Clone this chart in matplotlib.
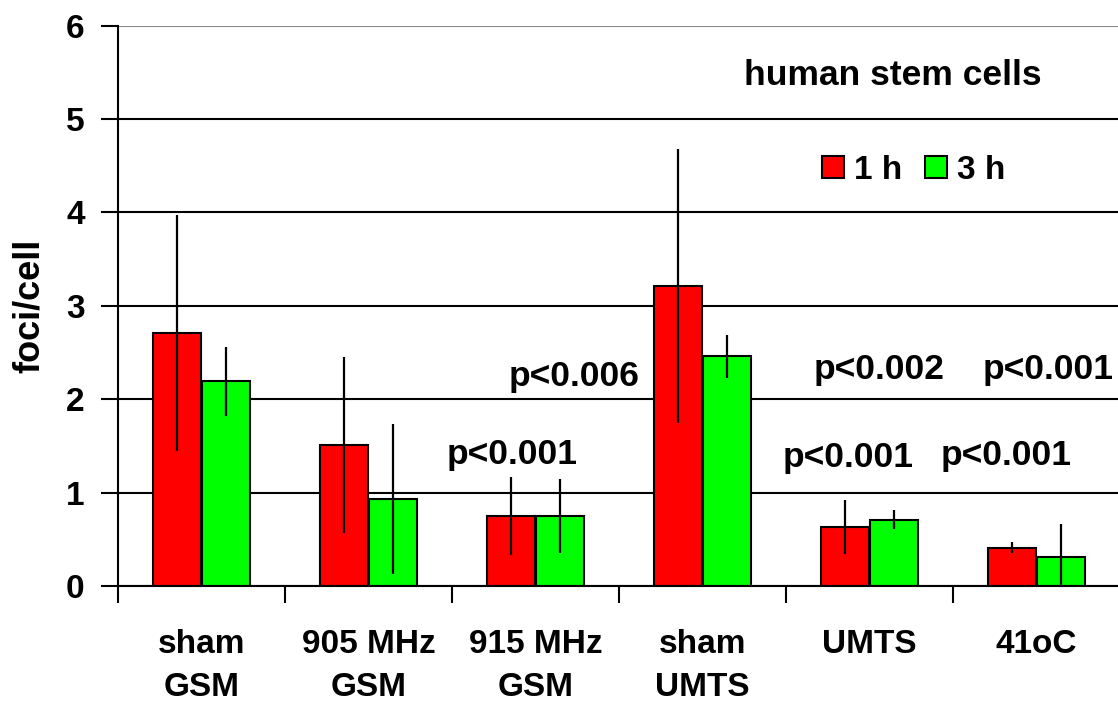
import numpy as np
import matplotlib
matplotlib.use("Agg")
import matplotlib.pyplot as plt

plt.rcParams['font.family'] = ['Liberation Sans', 'DejaVu Sans']
plt.rcParams['font.weight'] = 'bold'

# data
categories = ["sham\nGSM", "905 MHz\nGSM", "915 MHz\nGSM", "sham\nUMTS", "UMTS", "41oC"]
foci_1h = [2.71, 1.51, 0.75, 3.21, 0.63, 0.41]
err_1h = [1.26, 0.94, 0.42, 1.47, 0.29, 0.06]
foci_3h = [2.19, 0.93, 0.75, 2.46, 0.71, 0.31]
err_3h = [0.37, 0.80, 0.40, 0.23, 0.10, 0.35]
series_names = ["1 h", "3 h"]

p_labels = ["p<0.001", "p<0.006", "p<0.001", "p<0.002", "p<0.001", "p<0.001"]
p_x = [1.86, 2.23, 3.87, 4.06, 4.82, 5.07]
p_y = [1.41, 2.24, 1.38, 2.32, 1.40, 2.32]

fig = plt.figure(figsize=(11.18, 7.04), dpi=100)
ax = fig.add_axes([0.1055, 0.1676, 0.8962, 0.7960])

x = np.arange(len(categories))
w = 0.29
off = 0.147

ax.bar(x - off, foci_1h, w, color='#ff0000', edgecolor='black', linewidth=1.5,
       label=series_names[0], zorder=2)
ax.bar(x + off, foci_3h, w, color='#00ff00', edgecolor='black', linewidth=1.5,
       label=series_names[1], zorder=2)
ax.errorbar(x - off, foci_1h, yerr=err_1h, fmt='none', ecolor='black',
            elinewidth=1.6, capsize=0, zorder=3)
ax.errorbar(x + off, foci_3h, yerr=err_3h, fmt='none', ecolor='black',
            elinewidth=1.6, capsize=0, zorder=3)

ax.set_xlim(-0.5, len(categories) - 0.5)
ax.set_ylim(0, 6)
ax.set_yticks(range(0, 7))
ax.yaxis.grid(True, color='black', linewidth=1.5, zorder=0)
ax.set_axisbelow(True)
ax.get_ygridlines()[-1].set_color('#888888')

ax.set_xticks(x)
ax.set_xticklabels(categories, fontsize=24, fontweight='bold', linespacing=1.5)
ax.set_xticks(np.arange(-0.5, len(categories)), minor=True)
ax.tick_params(axis='x', which='major', length=0, pad=31)
ax.tick_params(axis='x', which='minor', length=12, width=1.5, direction='out')
ax.tick_params(axis='y', length=12, width=1.5, direction='out', pad=12, labelsize=24)
for lab in ax.get_yticklabels():
    lab.set_fontweight('bold')

for side in ['top', 'right']:
    ax.spines[side].set_visible(False)
for side in ['left', 'bottom']:
    ax.spines[side].set_linewidth(1.5)

ax.set_ylabel("foci/cell", fontsize=26, fontweight='bold', labelpad=14)

ax.text(4.14, 5.47, "human stem cells", fontsize=25.5, fontweight='bold',
        ha='center', va='center')
for lab, px, py in zip(p_labels, p_x, p_y):
    ax.text(px, py, lab, fontsize=25.5, fontweight='bold', ha='center', va='center')

ax.legend(loc='center', bbox_to_anchor=(0.794, 0.742), ncol=2, frameon=False,
          prop={'size': 24, 'weight': 'bold'}, handlelength=0.66, handleheight=0.66,
          handletextpad=0.3, columnspacing=0.7)

fig.savefig("out.png", dpi=100)
